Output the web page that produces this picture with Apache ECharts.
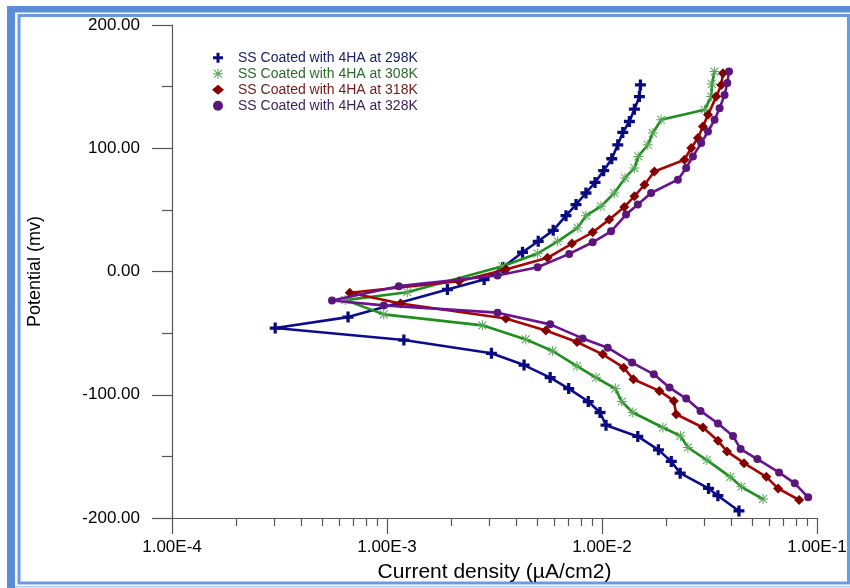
<!DOCTYPE html>
<html>
<head>
<meta charset="utf-8">
<script src="https://cdn.jsdelivr.net/npm/echarts@6/dist/echarts.min.js"></script>
<style>
html,body{margin:0;padding:0;background:#ffffff;}
#chart{width:850px;height:588px;}
</style>
</head>
<body>
<div id="chart"></div>
<script>
// ---- Data ----
const seriesNames = [
  'SS Coated with 4HA at 298K',
  'SS Coated with 4HA at 308K',
  'SS Coated with 4HA at 318K',
  'SS Coated with 4HA at 328K'
];

// 298K: current density (µA/cm2) and potential (mV)
const cur298 = [0.04335, 0.0346, 0.0313, 0.0231, 0.0210, 0.0183, 0.01467, 0.01044, 0.00979, 0.00863, 0.00700, 0.00574, 0.00434, 0.00306, 0.001198, 0.000302, 0.000659, 0.00191, 0.00283, 0.003456, 0.00427, 0.00505, 0.00593, 0.00680, 0.00757, 0.00842, 0.00928, 0.01018, 0.01110, 0.01184, 0.01249, 0.01341, 0.01415, 0.01493, 0.01509];
const pot298 = [-194.3, -181.9, -176.0, -163.6, -154.1, -144.7, -133.8, -124.7, -114.4, -105.5, -95.0, -86.1, -75.9, -66.4, -55.6, -45.9, -37.0, -14.6, -6.5, 3.2, 15.6, 24.5, 33.4, 45.3, 54.3, 63.7, 72.3, 81.8, 91.5, 102.8, 112.8, 121.7, 131.7, 141.9, 151.4];

// 308K
const cur308 = [0.0561, 0.04446, 0.0395, 0.03076, 0.02509, 0.02317, 0.01919, 0.0139, 0.01235, 0.01153, 0.00938, 0.00765, 0.00589, 0.00442, 0.00278, 0.000966, 0.00064, 0.001243, 0.003443, 0.005016, 0.00622, 0.0077, 0.00842, 0.00989, 0.01141, 0.0128, 0.01415, 0.01476, 0.01633, 0.01723, 0.01884, 0.02998, 0.03222, 0.03246, 0.03339];
const pot308 = [-184.6, -174.7, -166.6, -153.0, -142.8, -133.4, -126.6, -114.4, -105.5, -95.0, -86.1, -76.7, -64.5, -55.1, -43.7, -34.8, -23.2, -16.8, 4.3, 14.6, 24.5, 35.4, 45.3, 52.9, 63.7, 75.9, 84.0, 93.4, 102.8, 112.3, 123.1, 131.2, 141.9, 152.2, 162.2];

// 318K
const cur318 = [0.0826, 0.0659, 0.0581, 0.04577, 0.03815, 0.03463, 0.02948, 0.02213, 0.02159, 0.01849, 0.01399, 0.01262, 0.01008, 0.00765, 0.00548, 0.00357, 0.001156, 0.000671, 0.002162, 0.00357, 0.00558, 0.00725, 0.00905, 0.01081, 0.0127, 0.01415, 0.01575, 0.01753, 0.02419, 0.026, 0.02794, 0.02948, 0.03111, 0.034, 0.03587, 0.03653];
const pot318 = [-185.4, -176.0, -166.6, -155.5, -146.0, -137.4, -126.6, -115.8, -105.0, -96.9, -87.4, -78.0, -67.2, -57.2, -47.8, -38.1, -25.9, -17.2, -7.9, 1.6, 11.1, 22.7, 31.8, 42.1, 52.4, 61.0, 70.4, 81.2, 90.7, 100.2, 108.3, 117.7, 127.1, 141.9, 151.4, 160.9];

// 328K
const cur328 = [0.091, 0.0788, 0.0666, 0.0528, 0.04413, 0.04068, 0.03463, 0.02872, 0.02464, 0.0206, 0.01742, 0.0138, 0.01063, 0.00813, 0.00574, 0.003265, 0.000966, 0.000555, 0.001135, 0.003265, 0.005016, 0.00704, 0.00905, 0.01102, 0.01294, 0.01467, 0.01692, 0.02254, 0.02464, 0.02647, 0.02893, 0.03111, 0.03339, 0.03523, 0.03716, 0.03826, 0.03897];
const pot328 = [-183.2, -171.9, -163.0, -152.2, -144.1, -133.4, -123.3, -113.1, -103.1, -94.2, -83.4, -73.9, -61.8, -54.3, -42.9, -33.4, -27.5, -23.5, -11.9, -3.2, 3.5, 14.3, 23.7, 32.6, 46.2, 54.3, 63.7, 74.5, 84.0, 93.4, 104.2, 113.6, 123.1, 132.5, 143.3, 153.0, 162.2];

// Tick labels
const xTickValues = [0.0001, 0.001, 0.01, 0.1];
const xTickLabels = ['1.00E-4', '1.00E-3', '1.00E-2', '1.00E-1'];
const yTickValues = [-200, -100, 0, 100, 200];
const yTickLabels = ['-200.00', '-100.00', '0.00', '100.00', '200.00'];
// minor log ticks (2..9 x each decade)
const xMinorTickValues = [
  0.0002, 0.0003, 0.0004, 0.0005, 0.0006, 0.0007, 0.0008, 0.0009,
  0.002, 0.003, 0.004, 0.005, 0.006, 0.007, 0.008, 0.009,
  0.02, 0.03, 0.04, 0.05, 0.06, 0.07, 0.08, 0.09
];

// ---- Styles ----
const FONT = '"Liberation Sans", Arial, sans-serif';
const plusPath = 'path://M3.5,0H6.5V3.5H10V6.5H6.5V10H3.5V6.5H0V3.5H3.5Z';
const starPath = 'path://M0,4.5H10V5.5H0Z M4.5,0H5.5V10H4.5Z M0.7,1.4L1.4,0.7L9.3,8.6L8.6,9.3Z M8.6,0.7L9.3,1.4L1.4,9.3L0.7,8.6Z';

const styles = [
  { line: '#0c0c8e', sym: '#0a0a80', symbol: plusPath, size: 11, text: '#1b2266' },
  { line: '#1d8f1d', sym: '#55a555', symbol: starPath, size: 10, text: '#2b6a2b' },
  { line: '#a50505', sym: '#840000', symbol: 'diamond', size: 10, text: '#6e1a1a' },
  { line: '#6a128f', sym: '#5a167a', symbol: 'circle', size: 8, text: '#3a1d58' }
];
const curs = [cur298, cur308, cur318, cur328];
const pots = [pot298, pot308, pot318, pot328];

const series = seriesNames.map((name, k) => ({
  name: name,
  type: 'line',
  xAxisIndex: 0,
  yAxisIndex: 0,
  data: curs[k].map((c, i) => [c, pots[k][i]]),
  symbol: styles[k].symbol,
  symbolSize: styles[k].size,
  showSymbol: true,
  showAllSymbol: true,
  lineStyle: { color: styles[k].line, width: 2.6 },
  itemStyle: { color: styles[k].sym },
  emphasis: { disabled: true },
  animation: false,
  z: 2 + k
}));

const chart = echarts.init(document.getElementById('chart'), null, { renderer: 'canvas' });

chart.setOption({
  backgroundColor: '#ffffff',
  animation: false,
  grid: { left: 172, right: 33, top: 25, bottom: 69, containLabel: false },
  legend: {
    orient: 'vertical',
    left: 207,
    top: 45,
    itemWidth: 12,
    itemHeight: 10,
    itemGap: 0.5,
    selectedMode: false,
    data: seriesNames.map((n, k) => ({
      name: n,
      icon: styles[k].symbol,
      itemStyle: { color: styles[k].sym },
      textStyle: { color: styles[k].text }
    })),
    textStyle: { fontFamily: FONT, fontSize: 14, lineHeight: 15.5, padding: [0, 0, 0, 9] }
  },
  xAxis: [
    {
      type: 'log',
      logBase: 10,
      min: 0.0001,
      max: 0.1,
      name: 'Current density (µA/cm2)',
      nameLocation: 'middle',
      nameGap: 44,
      nameTextStyle: { fontFamily: FONT, fontSize: 21, color: '#000' },
      axisLine: { show: true, onZero: false, lineStyle: { color: '#555', width: 1.2 } },
      axisTick: { show: true, inside: false, length: 16, lineStyle: { color: '#555', width: 1.2 } },
      minorTick: { show: false },
      splitLine: { show: false },
      axisLabel: {
        margin: 21,
        fontFamily: FONT,
        fontSize: 17,
        color: '#000',
        showMinLabel: true,
        showMaxLabel: true,
        formatter: function (v) {
          const i = xTickValues.findIndex(t => Math.abs(Math.log10(t) - Math.log10(v)) < 1e-6);
          return i >= 0 ? xTickLabels[i] : '';
        }
      }
    },
    {
      type: 'value',
      gridIndex: 0,
      position: 'bottom',
      min: -4,
      max: -1,
      axisLine: { show: false, onZero: false },
      axisLabel: { show: false },
      splitLine: { show: false },
      axisTick: {
        show: true,
        inside: false,
        length: 8,
        customValues: xMinorTickValues.map(v => Math.log10(v)),
        lineStyle: { color: '#555', width: 1.2 }
      }
    }
  ],
  yAxis: {
    type: 'value',
    min: -200,
    max: 200,
    interval: 100,
    name: 'Potential (mv)',
    nameLocation: 'middle',
    nameGap: 128,
    nameTextStyle: { fontFamily: FONT, fontSize: 18, color: '#000' },
    axisLine: { show: true, onZero: false, lineStyle: { color: '#555', width: 1.2 } },
    axisTick: { show: true, inside: false, length: 20, lineStyle: { color: '#555', width: 1.2 } },
    minorTick: { show: true, splitNumber: 2, length: 10, lineStyle: { color: '#555', width: 1.2 } },
    splitLine: { show: false },
    axisLabel: {
      margin: 32,
      fontFamily: FONT,
      fontSize: 17,
      color: '#000',
      formatter: function (v) {
        const i = yTickValues.indexOf(v);
        return i >= 0 ? yTickLabels[i] : '';
      }
    }
  },
  graphic: [
    { type: 'rect', silent: true, z: -10, shape: { x: 7, y: 6, width: 8, height: 582 }, style: { fill: '#5a8dd6' } },
    { type: 'rect', silent: true, z: -10, shape: { x: 7, y: 6, width: 843, height: 6.5 }, style: { fill: '#5a8dd6' } },
    { type: 'rect', silent: true, z: -10, shape: { x: 19, y: 15.5, width: 829.5, height: 567.5 }, style: { fill: 'none', stroke: '#6b9ade', lineWidth: 3 } },
    { type: 'line', silent: true, z: -10, shape: { x1: 15, y1: 586.8, x2: 850, y2: 586.8 }, style: { stroke: '#b3c9ec', lineWidth: 1.5 } }
  ],
  series: series
});
</script>
</body>
</html>
